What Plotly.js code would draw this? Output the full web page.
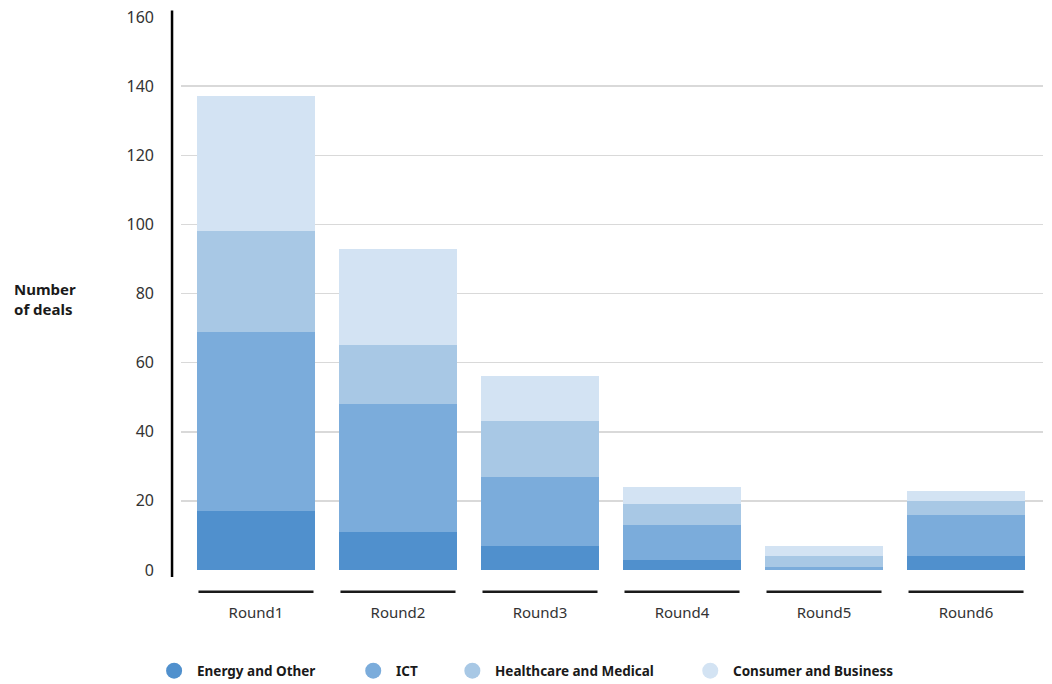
<!DOCTYPE html>
<html>
<head>
<meta charset="utf-8">
<script src="https://cdn.plot.ly/plotly-3.0.1.min.js"></script>
<style>
  html, body { margin: 0; padding: 0; background: #fff; }
  #chart { width: 1052px; height: 684px; }
</style>
</head>
<body>
<div id="chart"></div>
<script>
// Deals per funding round, split by sector
const rounds = ["Round1", "Round2", "Round3", "Round4", "Round5", "Round6"];
const energyOther = [17, 11, 7, 3, 0, 4];
const ict = [52, 37, 20, 10, 1, 12];
const healthcare = [29, 17, 16, 6, 3, 4];
const consumer = [39, 28, 13, 5, 3, 3];

const seriesNames = ["Energy and Other", "ICT", "Healthcare and Medical", "Consumer and Business"];
const seriesColors = ["#5090cd", "#7bacdb", "#a8c8e5", "#d3e3f3"];
const seriesValues = [energyOther, ict, healthcare, consumer];

const yTicks = [0, 20, 40, 60, 80, 100, 120, 140, 160];

const FONT = "Noto Sans, Open Sans, sans-serif";

const traces = seriesValues.map((vals, i) => ({
  type: "bar",
  name: seriesNames[i],
  x: rounds,
  y: vals,
  marker: { color: seriesColors[i], line: { width: 0 } },
  showlegend: false,
  hoverinfo: "x+y+name"
}));

// Plot area geometry in paper units
const legendY = -0.182;
const legendX = [-0.008, 0.223, 0.338, 0.614];

const shapes = [];
// Vertical axis rule, set slightly left of the grid
shapes.push({
  type: "line", xref: "paper", yref: "paper",
  x0: -0.0104, x1: -0.0104, y0: -0.0125, y1: 1.0117,
  line: { color: "#000", width: 2.5 }
});
// Underline beneath each category
rounds.forEach((r, i) => {
  shapes.push({
    type: "line", xref: "x", yref: "paper",
    x0: i - 0.405, x1: i + 0.405, y0: -0.0394, y1: -0.0394,
    line: { color: "#1a1a1a", width: 2.5 }
  });
});
// Legend markers
seriesNames.forEach((n, i) => {
  shapes.push({
    type: "circle", xref: "paper", yref: "paper",
    xsizemode: "pixel", ysizemode: "pixel",
    xanchor: legendX[i], yanchor: legendY,
    x0: -8, x1: 8, y0: -8, y1: 8,
    fillcolor: seriesColors[i], line: { width: 0 }
  });
});

const annotations = [{
  xref: "paper", yref: "paper", x: -0.196, y: 0.49,
  xanchor: "left", yanchor: "middle", align: "left",
  text: "<b>Number<br>of deals</b>", showarrow: false,
  font: { family: FONT, size: 15, color: "#1a1a1a" }
}];
seriesNames.forEach((n, i) => {
  annotations.push({
    xref: "paper", yref: "paper", x: legendX[i] + 0.0245, y: legendY,
    xanchor: "left", yanchor: "middle",
    text: "<b>" + n + "</b>", showarrow: false,
    font: { family: FONT, size: 13.5, color: "#1a1a1a" }
  });
});

const layout = {
  width: 1052, height: 684,
  margin: { l: 181, r: 9, t: 16.5, b: 113.8 },
  barmode: "stack",
  bargap: 0.169,
  paper_bgcolor: "#fff",
  plot_bgcolor: "#fff",
  font: { family: FONT, color: "#333" },
  xaxis: {
    type: "category",
    range: [-0.528, 5.542],
    showgrid: false, zeroline: false, showline: false,
    ticks: "", ticklabelstandoff: 32,
    tickfont: { family: FONT, size: 15, color: "#333" }
  },
  yaxis: {
    range: [0, 160],
    tickvals: yTicks,
    ticktext: yTicks.map(String),
    showgrid: true, gridcolor: "#d9d9d9", gridwidth: 1.5,
    zeroline: false, showline: false,
    ticks: "", ticklabelstandoff: 26,
    tickfont: { family: FONT, size: 16, color: "#333" }
  },
  shapes: shapes,
  annotations: annotations,
  showlegend: false
};

Plotly.newPlot("chart", traces, layout, { displayModeBar: false, staticPlot: true });
</script>
</body>
</html>
